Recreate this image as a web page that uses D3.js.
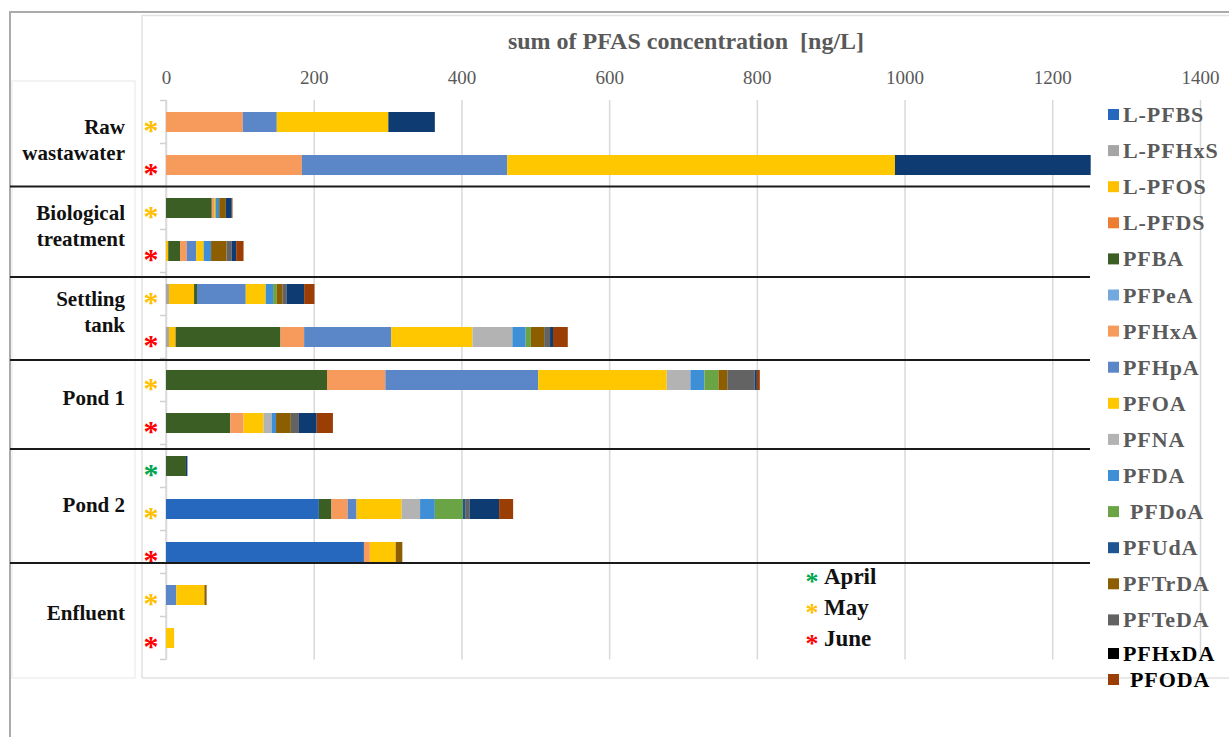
<!DOCTYPE html>
<html>
<head>
<meta charset="utf-8">
<script src="https://cdn.jsdelivr.net/npm/d3@7"></script>
<style>
  body { margin: 0; background: #fff; }
  svg { display: block; }
  text { font-family: "Liberation Serif", "Times New Roman", serif; }
</style>
</head>
<body>
<div id="chart"></div>
<script>
// series, in stacking order
var series = ["L-PFBS", "L-PFHxS", "L-PFOS", "L-PFDS", "PFBA", "PFPeA", "PFHxA", "PFHpA",
  "PFOA", "PFNA", "PFDA", "PFDoA", "PFUdA", "PFTrDA", "PFTeDA", "PFHxDA", "PFODA"];

// one array per bar, values in ng/L in series order
var rawMay   = [0, 0, 0, 0, 0, 0, 104, 46, 151, 0, 0, 0, 0, 0, 0, 63, 0];
var rawJune  = [0, 0, 0, 0, 0, 0, 184, 278, 525, 0, 0, 0, 0, 0, 0, 265, 0];
var bioMay   = [0, 0, 0, 0, 62, 0, 3, 0, 2, 0, 5, 0, 0, 9, 0, 8, 1];
var bioJune  = [0, 0, 3, 0, 16, 0, 9, 13, 10, 0, 10, 0, 0, 21, 7, 6, 10];
var setMay   = [0, 4, 34, 0, 4, 0, 0, 66, 27, 0, 10, 5, 0, 8, 5, 24, 14];
var setJune  = [0, 4, 9, 0, 142, 0, 32, 118, 110, 54, 18, 7, 0, 18, 8, 4, 20];
var p1May    = [0, 0, 0, 0, 218, 0, 79, 207, 174, 32, 19, 19, 0, 12, 37, 3, 4];
var p1June   = [0, 0, 0, 0, 87, 0, 18, 0, 27, 11, 6, 0, 0, 20, 11, 24, 22];
var p2April  = [0, 0, 0, 0, 27, 0, 0, 0, 0, 0, 0, 0, 0, 0, 0, 2, 0];
var p2May    = [207, 0, 0, 0, 17, 0, 22, 12, 61, 25, 20, 38, 3, 0, 6, 40, 19];
var p2June   = [268, 0, 0, 0, 0, 0, 8, 0, 35, 0, 0, 0, 0, 9, 0, 0, 0];
var enfMay   = [0, 0, 0, 0, 0, 0, 0, 14, 38, 0, 0, 0, 0, 3, 0, 0, 0];
var enfJune  = [0, 0, 0, 0, 0, 0, 0, 0, 11, 0, 0, 0, 0, 0, 0, 0, 0];

var rowValues = [rawMay, rawJune, bioMay, bioJune, setMay, setJune, p1May, p1June,
  p2April, p2May, p2June, enfMay, enfJune];
var rowMonths = ["May", "June", "May", "June", "May", "June", "May", "June",
  "April", "May", "June", "May", "June"];
var rowGroups = [0, 0, 1, 1, 2, 2, 3, 3, 4, 4, 4, 5, 5];
var groupLabels = [["Raw", "wastawater"], ["Biological", "treatment"], ["Settling", "tank"],
  ["Pond 1"], ["Pond 2"], ["Enfluent"]];
var months = ["April", "May", "June"];
var xTicks = [0, 200, 400, 600, 800, 1000, 1200, 1400];

// styles
var colors = ["#2568BD", "#A5A5A5", "#FFC000", "#ED7D31", "#3B5E24", "#73A9DE", "#F79B5C", "#5B86C8",
  "#FFC700", "#B3B3B3", "#3E8FD5", "#6AA444", "#1F5591", "#8C5E00", "#636363", "#0F3B73", "#9A3E06"];
var legendSwatch = colors.slice();
legendSwatch[15] = "#000000";
var monthColor = { April: "#00A550", May: "#FFC000", June: "#FF0000" };

var width = 1229, height = 737;
var svg = d3.select("#chart").append("svg")
  .attr("width", width).attr("height", height);

var x = d3.scaleLinear().domain([0, 1400]).range([166, 1200]);
var rowIds = d3.range(rowValues.length);
var y = d3.scaleBand().domain(rowIds).range([100.5, 659.5])
  .paddingInner(0.535).paddingOuter(0.2675);
var step = y.step();
var rowTop = function (i) { return y(i) - (step - y.bandwidth()) / 2; };
var rowMid = function (i) { return y(i) + y.bandwidth() / 2; };

/* ****** frames ****** */
svg.append("rect").attr("x", 12).attr("y", 81).attr("width", 123).attr("height", 597)
  .attr("fill", "none").attr("stroke", "#EFEFEF").attr("stroke-width", 1.5);
svg.append("path").attr("d", "M142,678V15.5H1240")
  .attr("fill", "none").attr("stroke", "#E2E2E2").attr("stroke-width", 1.5);
svg.append("line").attr("x1", 142).attr("x2", 1240).attr("y1", 678).attr("y2", 678)
  .attr("stroke", "#E2E2E2").attr("stroke-width", 1.5);
svg.append("path").attr("d", "M10,740V12H1240")
  .attr("fill", "none").attr("stroke", "#ABABAB").attr("stroke-width", 2);

/* ****** top axis + grid ****** */
var xAxis = d3.axisTop(x).tickValues(xTicks).tickFormat(d3.format("d"))
  .tickSize(-(659.5 - 100)).tickPadding(16);
var gx = svg.append("g").attr("transform", "translate(0,100)").call(xAxis);
gx.select(".domain").remove();
gx.selectAll(".tick line").attr("stroke", "#D9D9D9").attr("stroke-width", 1.5);
gx.selectAll(".tick text").attr("fill", "#595959").attr("font-size", 19)
  .style("font-family", "'Liberation Serif', serif");

svg.append("text").attr("x", 686).attr("y", 49).attr("text-anchor", "middle")
  .attr("font-size", 24).attr("font-weight", "bold").attr("fill", "#595959")
  .style("white-space", "pre")
  .text("sum of PFAS concentration  [ng/L]");

/* ****** left axis ****** */
var bounds = rowIds.map(rowTop).concat([rowTop(rowIds.length - 1) + step]);
svg.append("line").attr("x1", 166).attr("x2", 166).attr("y1", bounds[0]).attr("y2", bounds[bounds.length - 1])
  .attr("stroke", "#D9D9D9").attr("stroke-width", 1.5);
svg.selectAll(".ytick").data(bounds).enter().append("line")
  .attr("x1", 160).attr("x2", 166).attr("y1", function (d) { return d; }).attr("y2", function (d) { return d; })
  .attr("stroke", "#D0D0D0").attr("stroke-width", 1.5);

/* ****** stacked bars ****** */
var table = rowValues.map(function (vals, i) {
  var o = { row: i };
  series.forEach(function (s, j) { o[s] = vals[j]; });
  return o;
});
var stacked = d3.stack().keys(series)(table);

svg.append("g").selectAll("g").data(stacked).enter().append("g")
  .attr("fill", function (d, j) { return colors[j]; })
  .selectAll("rect").data(function (d) { return d.filter(function (p) { return p[1] > p[0]; }); })
  .enter().append("rect")
  .attr("x", function (p) { return x(p[0]); })
  .attr("width", function (p) { return x(p[1]) - x(p[0]); })
  .attr("y", function (p) { return y(p.data.row); })
  .attr("height", y.bandwidth());

/* ****** month stars ****** */
svg.selectAll(".star").data(rowIds).enter().append("text")
  .attr("x", 151).attr("y", function (i) { return rowMid(i) + 18; })
  .attr("text-anchor", "middle").attr("font-size", 30).attr("font-weight", "bold")
  .attr("fill", function (i) { return monthColor[rowMonths[i]]; })
  .text("*");

/* ****** group labels + separators ****** */
var groupIds = d3.range(groupLabels.length);
groupIds.forEach(function (g) {
  var rows = rowIds.filter(function (i) { return rowGroups[i] === g; });
  var mid = d3.mean(rows, rowMid) - 4;
  var lines = groupLabels[g];
  var t = svg.append("text").attr("text-anchor", "end").attr("font-size", 21)
    .attr("font-weight", "bold").attr("fill", "#111");
  lines.forEach(function (l, k) {
    t.append("tspan").attr("x", 125)
      .attr("y", mid + 7 + (k - (lines.length - 1) / 2) * 26)
      .text(l);
  });
});
var sepNudge = [0, 4.5, 1.5, 4.5, -10.5];
groupIds.slice(0, -1).forEach(function (g) {
  var last = d3.max(rowIds.filter(function (i) { return rowGroups[i] === g; }));
  var yy = rowTop(last) + step + sepNudge[g];
  svg.append("line").attr("x1", 10).attr("x2", 1090).attr("y1", yy).attr("y2", yy)
    .attr("stroke", "#1a1a1a").attr("stroke-width", 2.2);
});

/* ****** series legend ****** */
var leg = svg.append("g").selectAll("g").data(series).enter().append("g")
  .attr("transform", function (d, j) {
    var yy = j < 15 ? 115 + j * 36.1 : (j === 15 ? 654 : 680);
    return "translate(1108," + yy + ")";
  });
leg.append("rect").attr("x", 0).attr("y", -6).attr("width", 11).attr("height", 11)
  .attr("fill", function (d, j) { return legendSwatch[j]; });
leg.append("text").attr("x", function (d) { return d === "PFDoA" || d === "PFODA" ? 22 : 15; })
  .attr("y", 7).attr("font-size", 22).attr("font-weight", "bold").attr("letter-spacing", 0.9)
  .attr("fill", function (d, j) { return j >= 15 ? "#000" : "#5A5A5A"; })
  .text(function (d) { return d; });

/* ****** month legend ****** */
var ml = svg.append("g").selectAll("g").data(months).enter().append("g")
  .attr("transform", function (d, k) { return "translate(812," + (576 + k * 31) + ")"; });
ml.append("text").attr("x", 0).attr("y", 14).attr("text-anchor", "middle")
  .attr("font-size", 26).attr("font-weight", "bold")
  .attr("fill", function (d) { return monthColor[d]; }).text("*");
ml.append("text").attr("x", 12).attr("y", 8).attr("font-size", 23).attr("font-weight", "bold")
  .attr("fill", "#111").text(function (d) { return d; });
</script>
</body>
</html>
